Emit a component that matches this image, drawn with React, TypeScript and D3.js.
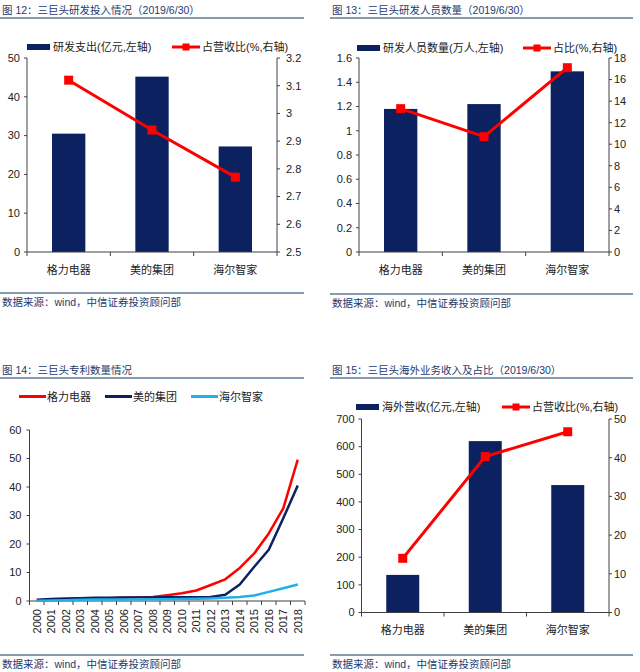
import React from 'react';
import * as d3 from 'd3';

// ---------- data ----------
const companies = ['格力电器', '美的集团', '海尔智家'];

const rdSpend = [30.5, 45.2, 27.2];
const rdSpendRatio = [3.12, 2.94, 2.77];
const rdLeftTicks = [0, 10, 20, 30, 40, 50];
const rdRightTicks = [2.5, 2.6, 2.7, 2.8, 2.9, 3, 3.1, 3.2];

const rdStaff = [1.18, 1.22, 1.49];
const rdStaffRatio = [13.3, 10.7, 17.1];
const staffLeftTicks = [0, 0.2, 0.4, 0.6, 0.8, 1, 1.2, 1.4, 1.6];
const staffRightTicks = [0, 2, 4, 6, 8, 10, 12, 14, 16, 18];

const years = ['2000', '2001', '2002', '2003', '2004', '2005', '2006', '2007', '2008', '2009', '2010', '2011', '2012', '2013', '2014', '2015', '2016', '2017', '2018'];
const patentGree = [0.2, 0.4, 0.6, 0.8, 0.9, 1.0, 1.1, 1.2, 1.4, 2.0, 2.7, 3.7, 5.6, 7.6, 11.6, 16.7, 23.7, 32.5, 49.6];
const patentMidea = [0.4, 0.7, 0.9, 1.0, 1.1, 1.1, 1.2, 1.2, 1.2, 1.3, 1.3, 1.3, 1.4, 2.2, 5.8, 12.0, 18.0, 29.0, 40.5];
const patentHaier = [0.1, 0.2, 0.3, 0.4, 0.5, 0.5, 0.5, 0.6, 0.6, 0.6, 0.7, 0.8, 0.9, 1.1, 1.4, 1.9, 3.2, 4.5, 5.8];
const patentTicks = [0, 10, 20, 30, 40, 50, 60];

const overseasRev = [136, 620, 461];
const overseasRatio = [14.0, 40.3, 46.7];
const ovLeftTicks = [0, 100, 200, 300, 400, 500, 600, 700];
const ovRightTicks = [0, 10, 20, 30, 40, 50];

// ---------- styles ----------
const NAVY = '#0b2160';
const RED = '#ff0000';
const CYAN = '#20b0ea';
const AXIS = '#404040';
const TITLE = '#1e3a70';
const RULE = '#5f7893';
const FONT = '"Liberation Sans", "Noto Sans CJK SC", Arial, sans-serif';

function Header({ x, y, w, text }) {
  return (
    <g>
      <text x={x + 2} y={y} fontSize={10.5} fill={TITLE} fontFamily={FONT}>{text}</text>
      <line x1={x} x2={x + w} y1={y + 4} y2={y + 4} stroke={RULE} strokeWidth={1.5} />
    </g>
  );
}

function Footer({ x, y, w }) {
  return (
    <g>
      <line x1={x} x2={x + w} y1={y} y2={y} stroke={RULE} strokeWidth={1.5} />
      <text x={x + 2} y={y + 13} fontSize={10.5} fill={TITLE} fontFamily={FONT}>数据来源：wind，中信证券投资顾问部</text>
    </g>
  );
}

function ComboChart({ x0, x1, yTop, yBot, labelY, leftDomain, rightDomain, leftTicks, rightTicks, rightGap, bars, line, legendY, legendX1, barLabel, legendX2, lineLabel }) {
  const xb = d3.scaleBand().domain(companies).range([x0, x1]).paddingInner(0).paddingOuter(0);
  const yl = d3.scaleLinear().domain(leftDomain).range([yBot, yTop]);
  const yr = d3.scaleLinear().domain(rightDomain).range([yBot, yTop]);
  const bw = xb.bandwidth() * 0.4;
  const cx = (c) => (xb(c) as number) + xb.bandwidth() / 2;
  const linePath = d3.line<number>().x((_, i) => cx(companies[i])).y((v) => yr(v))(line);
  const boundaries = [...companies.map((c) => xb(c) as number), x1];
  return (
    <g fontFamily={FONT}>
      {/* legend */}
      <rect x={legendX1} y={legendY - 3} width={23} height={6} fill={NAVY} />
      <text x={legendX1 + 26} y={legendY + 4} fontSize={11} fill="#222">{barLabel}</text>
      <line x1={legendX2} x2={legendX2 + 28} y1={legendY} y2={legendY} stroke={RED} strokeWidth={3} />
      <rect x={legendX2 + 14 - 3.5} y={legendY - 3.5} width={7} height={7} fill={RED} />
      <text x={legendX2 + 30} y={legendY + 4} fontSize={11} fill="#222">{lineLabel}</text>
      {/* bars */}
      {bars.map((v, i) => (
        <rect key={i} x={cx(companies[i]) - bw / 2} y={yl(v)} width={bw} height={yBot - yl(v)} fill={NAVY} />
      ))}
      {/* axes */}
      <line x1={x0} x2={x0} y1={yTop} y2={yBot} stroke={AXIS} />
      <line x1={x1} x2={x1} y1={yTop} y2={yBot} stroke={AXIS} />
      <line x1={x0} x2={x1} y1={yBot} y2={yBot} stroke={AXIS} />
      {leftTicks.map((t) => (
        <g key={'l' + t}>
          <line x1={x0 - 3} x2={x0} y1={yl(t)} y2={yl(t)} stroke={AXIS} />
          <text x={x0 - 7} y={yl(t)} dy="0.35em" textAnchor="end" fontSize={11} fill="#222">{String(t)}</text>
        </g>
      ))}
      {rightTicks.map((t) => (
        <g key={'r' + t}>
          <line x1={x1} x2={x1 + 3} y1={yr(t)} y2={yr(t)} stroke={AXIS} />
          <text x={x1 + rightGap} y={yr(t)} dy="0.35em" textAnchor="start" fontSize={11} fill="#222">{String(t)}</text>
        </g>
      ))}
      {boundaries.map((b, i) => (
        <line key={'b' + i} x1={b} x2={b} y1={yBot} y2={yBot + 4} stroke={AXIS} />
      ))}
      {companies.map((c) => (
        <text key={c} x={cx(c)} y={labelY} textAnchor="middle" fontSize={11} fill="#222">{c}</text>
      ))}
      {/* line */}
      <path d={linePath || ''} fill="none" stroke={RED} strokeWidth={3} />
      {line.map((v, i) => (
        <rect key={'m' + i} x={cx(companies[i]) - 4.5} y={yr(v) - 4.5} width={9} height={9} fill={RED} />
      ))}
    </g>
  );
}

function PatentChart() {
  const x0 = 29.5, x1 = 305, yTop = 430, yBot = 601;
  const xb = d3.scaleBand().domain(years).range([x0, x1]);
  const y = d3.scaleLinear().domain([0, 60]).range([yBot, yTop]);
  const cx = (yr) => (xb(yr) as number) + xb.bandwidth() / 2;
  const mk = (arr) => d3.line<number>().x((_, i) => cx(years[i])).y((v) => y(v))(arr) || '';
  const series = [
    { name: '格力电器', data: patentGree, color: RED },
    { name: '美的集团', data: patentMidea, color: NAVY },
    { name: '海尔智家', data: patentHaier, color: CYAN },
  ];
  const legendX = [19, 105, 191];
  const legendY = 396.5;
  return (
    <g fontFamily={FONT}>
      {series.map((s, i) => (
        <g key={s.name}>
          <line x1={legendX[i]} x2={legendX[i] + 27} y1={legendY} y2={legendY} stroke={s.color} strokeWidth={3} />
          <text x={legendX[i] + 28} y={legendY + 4} fontSize={11} fill="#222">{s.name}</text>
        </g>
      ))}
      <line x1={x0} x2={x0} y1={yTop} y2={yBot} stroke={AXIS} />
      <line x1={x0} x2={x1} y1={yBot} y2={yBot} stroke={AXIS} />
      {patentTicks.map((t) => (
        <g key={t}>
          <line x1={x0 - 3} x2={x0} y1={y(t)} y2={y(t)} stroke={AXIS} />
          <text x={x0 - 8} y={y(t)} dy="0.35em" textAnchor="end" fontSize={11} fill="#222">{String(t)}</text>
        </g>
      ))}
      {[...years.map((yr) => xb(yr) as number), x1].map((b, i) => (
        <line key={'b' + i} x1={b} x2={b} y1={yBot} y2={yBot + 4} stroke={AXIS} />
      ))}
      {years.map((yr) => (
        <text key={yr} transform={`translate(${cx(yr)},609) rotate(-90)`} dy="0.35em" textAnchor="end" fontSize={11} fill="#222">{yr}</text>
      ))}
      {series.map((s) => (
        <path key={'p' + s.name} d={mk(s.data)} fill="none" stroke={s.color} strokeWidth={2.5} strokeLinejoin="round" />
      ))}
    </g>
  );
}

export default function App() {
  return (
    <svg width={640} height={672} style={{ position: 'absolute', left: 0, top: 0, background: '#fff' }}>
      <rect width={640} height={672} fill="#fff" />
      <Header x={0} y={14} w={304} text="图 12：三巨头研发投入情况（2019/6/30）" />
      <ComboChart x0={27} x1={277} yTop={58} yBot={252} labelY={274}
        leftDomain={[0, 50]} rightDomain={[2.5, 3.2]} leftTicks={rdLeftTicks} rightTicks={rdRightTicks} rightGap={9}
        bars={rdSpend} line={rdSpendRatio} legendY={47} legendX1={27} barLabel="研发支出(亿元,左轴)" legendX2={172} lineLabel="占营收比(%,右轴)" />
      <Footer x={0} y={293} w={304} />

      <Header x={330} y={14} w={303} text="图 13：三巨头研发人员数量（2019/6/30）" />
      <ComboChart x0={359} x1={609} yTop={58} yBot={252} labelY={274}
        leftDomain={[0, 1.6]} rightDomain={[0, 18]} leftTicks={staffLeftTicks} rightTicks={staffRightTicks} rightGap={5}
        bars={rdStaff} line={rdStaffRatio} legendY={48} legendX1={357} barLabel="研发人员数量(万人,左轴)" legendX2={523} lineLabel="占比(%,右轴)" />
      <Footer x={330} y={294} w={303} />

      <Header x={0} y={374} w={304} text="图 14：三巨头专利数量情况" />
      <PatentChart />
      <Footer x={0} y={655} w={304} />

      <Header x={330} y={374} w={303} text="图 15：三巨头海外业务收入及占比（2019/6/30）" />
      <ComboChart x0={361.5} x1={609} yTop={419} yBot={612.5} labelY={634}
        leftDomain={[0, 700]} rightDomain={[0, 50]} leftTicks={ovLeftTicks} rightTicks={ovRightTicks} rightGap={5}
        bars={overseasRev} line={overseasRatio} legendY={407} legendX1={356} barLabel="海外营收(亿元,左轴)" legendX2={502} lineLabel="占营收比(%,右轴)" />
      <Footer x={330} y={655} w={303} />
    </svg>
  );
}
